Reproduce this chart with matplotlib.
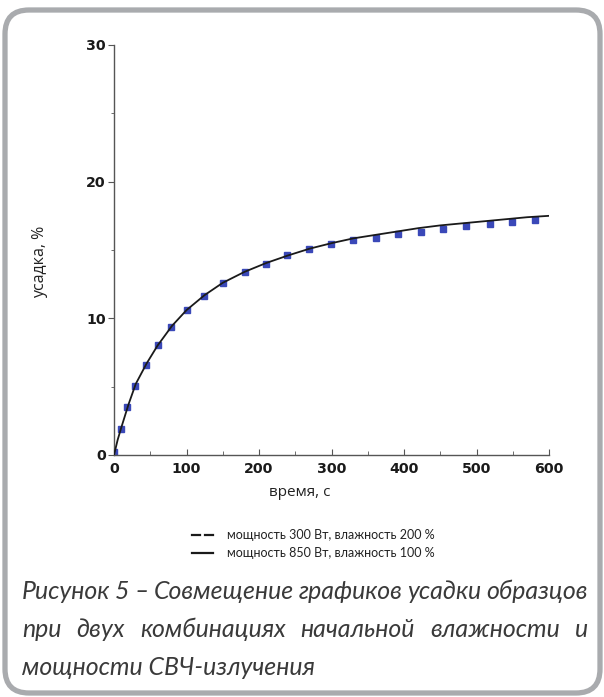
import matplotlib
matplotlib.use('Agg')
import matplotlib.pyplot as plt
from matplotlib.patches import FancyBboxPatch
from matplotlib.lines import Line2D
from matplotlib.transforms import IdentityTransform
from matplotlib.ticker import MultipleLocator

# series "мощность 300 Вт, влажность 200 %" (blue dash marks)
t_300 = [0, 9, 18, 29, 44, 60, 78, 100, 124, 151, 180, 209, 239, 269, 299,
         329, 361, 392, 423, 454, 486, 518, 549, 580]
s_300 = [0.25, 1.9, 3.5, 5.05, 6.55, 8.05, 9.35, 10.6, 11.65, 12.6, 13.4,
         14.0, 14.6, 15.1, 15.45, 15.7, 15.9, 16.15, 16.35, 16.55, 16.75,
         16.9, 17.05, 17.2]

# series "мощность 850 Вт, влажность 100 %" (solid black line)
t_850 = [0, 5, 10, 20, 30, 45, 60, 80, 100, 125, 150, 180, 210, 240, 270,
         300, 330, 360, 390, 420, 450, 480, 510, 540, 570, 600]
s_850 = [0.0, 1.1, 2.0, 3.7, 5.2, 6.7, 8.0, 9.45, 10.6, 11.7, 12.6, 13.4,
         14.05, 14.6, 15.1, 15.5, 15.85, 16.1, 16.35, 16.6, 16.8, 16.95,
         17.1, 17.25, 17.4, 17.5]

x_ticks = [0, 100, 200, 300, 400, 500, 600]
y_ticks = [0, 10, 20, 30]

legend_labels = ["мощность 300 Вт, влажность 200 %",
                 "мощность 850 Вт, влажность 100 %"]
caption_lines = ["Рисунок 5 – Совмещение графиков усадки образцов",
                 "при двух комбинациях начальной влажности и",
                 "мощности СВЧ-излучения"]

W, H = 604, 697
fig = plt.figure(figsize=(W / 100, H / 100), dpi=100)
fig.patch.set_facecolor('white')

# rounded grey frame
frame = FancyBboxPatch((5, 4), 595, 683,
                       boxstyle="round,pad=0,rounding_size=24",
                       transform=IdentityTransform(), facecolor='white',
                       edgecolor='#a9abae', linewidth=3.8, zorder=0)
fig.add_artist(frame)

ax = fig.add_axes([114 / W, 1 - 455 / H, 435 / W, 410 / H])
ax.set_facecolor('none')
ax.plot(t_850, s_850, color='#1a1a1a', lw=1.3, zorder=3)
ax.plot(t_300, s_300, linestyle='none', marker='s', ms=4.2,
        color='#3a48b8', mec='#3a48b8', zorder=2)

ax.set_xlim(0, 600)
ax.set_ylim(0, 30)
ax.set_xticks(x_ticks)
ax.set_yticks(y_ticks)
ax.xaxis.set_minor_locator(MultipleLocator(50))
ax.yaxis.set_minor_locator(MultipleLocator(5))
for s in ('top', 'right'):
    ax.spines[s].set_visible(False)
for s in ('left', 'bottom'):
    ax.spines[s].set_color('#555555')
    ax.spines[s].set_linewidth(1.0)
ax.tick_params(axis='x', which='major', direction='in', length=4,
               color='#555555', pad=5)
ax.tick_params(axis='x', which='minor', direction='in', length=3,
               color='#555555')
ax.tick_params(axis='y', which='major', direction='out', length=4,
               color='#555555', pad=2)
ax.tick_params(axis='y', which='minor', direction='out', length=2,
               color='#555555')
for lab in ax.get_xticklabels() + ax.get_yticklabels():
    lab.set_fontweight('bold')
    lab.set_fontsize(10.2)
    lab.set_color('#1a1a1a')

fig.text(300 / W, 1 - 493 / H, "время, с", ha='center', va='center',
         fontsize=11, family='Open Sans', color='#222222')
fig.text(40 / W, 1 - 262 / H, "усадка, %", ha='center', va='center',
         rotation=90, fontsize=11.5, family='Open Sans', color='#222222')

# legend, drawn by hand as in the original
leg_y = [535, 553]
fig.add_artist(Line2D([192 / W, 200 / W], [1 - leg_y[0] / H] * 2,
                      color='#1a1a1a', lw=1.6))
fig.add_artist(Line2D([205 / W, 213 / W], [1 - leg_y[0] / H] * 2,
                      color='#1a1a1a', lw=1.6))
fig.add_artist(Line2D([192 / W, 213 / W], [1 - leg_y[1] / H] * 2,
                      color='#1a1a1a', lw=1.6))
for y, lab in zip(leg_y, legend_labels):
    fig.text(227 / W, 1 - y / H, lab, ha='left', va='center',
             fontsize=9.0, family='Lato', color='#222222')

# justified italic caption
fig.canvas.draw()
renderer = fig.canvas.get_renderer()
cap_kw = dict(fontsize=17.9, family='Lato', style='italic', color='#3a3a3a',
              va='baseline', ha='left')
left, right = 22, 588
base_y = [599, 637, 675]
for i, (line, y) in enumerate(zip(caption_lines, base_y)):
    words = line.split(' ')
    if i == len(caption_lines) - 1:
        fig.text(left / W, 1 - y / H, line, **cap_kw)
        continue
    texts = [fig.text(0, 1 - y / H, w, **cap_kw) for w in words]
    widths = [t.get_window_extent(renderer).width for t in texts]
    gap = (right - left - sum(widths)) / (len(words) - 1)
    x = left
    for t, w in zip(texts, widths):
        t.set_x(x / W)
        x += w + gap

fig.savefig('out.png', dpi=100)
